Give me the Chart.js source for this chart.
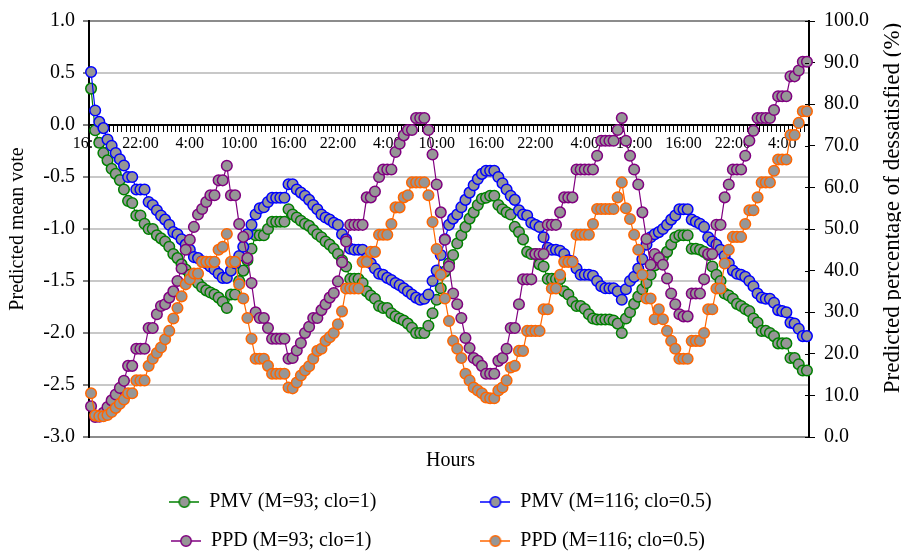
<!DOCTYPE html>
<html>
<head>
<meta charset="utf-8">
<script src="https://cdn.jsdelivr.net/npm/chart.js@4.4.0/dist/chart.umd.min.js"></script>
<style>
html,body{margin:0;padding:0;background:#fff;}
#wrap{width:901px;height:552px;}
</style>
</head>
<body>
<div id="wrap"><canvas id="c" width="901" height="552"></canvas></div>
<script>
// ---- data ----
const categories = [];
for (let i = 0; i < 175; i++) {
  const m = (16 * 60 + 30 * i) % (24 * 60);
  categories.push(Math.floor(m / 60) + ':' + (m % 60 === 0 ? '00' : '30'));
}
const tickLabels = ["16:00","22:00","4:00","10:00","16:00","22:00","4:00","10:00","16:00","22:00","4:00","10:00","16:00","22:00","4:00"];

const pmv93 = [0.35,-0.05,-0.17,-0.27,-0.34,-0.42,-0.47,-0.53,-0.62,-0.73,
 -0.75,-0.87,-0.87,-0.95,-1.00,-1.00,-1.06,-1.09,-1.12,-1.17,
 -1.24,-1.28,-1.34,-1.39,-1.44,-1.48,-1.52,-1.56,-1.59,-1.61,
 -1.63,-1.66,-1.70,-1.76,-1.63,-1.63,-1.50,-1.40,-1.30,-1.19,
 -1.06,-1.06,-1.06,-1.00,-0.93,-0.93,-0.93,-0.93,-0.81,-0.86,
 -0.89,-0.92,-0.95,-0.97,-1.01,-1.05,-1.08,-1.12,-1.15,-1.19,
 -1.24,-1.30,-1.36,-1.48,-1.48,-1.48,-1.52,-1.60,-1.64,-1.67,
 -1.74,-1.76,-1.76,-1.81,-1.84,-1.86,-1.88,-1.91,-1.95,-2.00,
 -2.00,-2.00,-1.93,-1.81,-1.68,-1.57,-1.41,-1.33,-1.25,-1.14,
 -1.06,-0.98,-0.90,-0.84,-0.77,-0.71,-0.70,-0.68,-0.68,-0.77,
 -0.81,-0.84,-0.86,-0.98,-1.03,-1.10,-1.22,-1.24,-1.24,-1.34,
 -1.36,-1.48,-1.48,-1.48,-1.48,-1.60,-1.63,-1.70,-1.74,-1.74,
 -1.77,-1.82,-1.86,-1.87,-1.87,-1.87,-1.87,-1.88,-1.91,-2.00,
 -1.86,-1.80,-1.72,-1.65,-1.58,-1.52,-1.44,-1.35,-1.30,-1.27,
 -1.22,-1.15,-1.08,-1.06,-1.06,-1.06,-1.19,-1.19,-1.20,-1.22,
 -1.25,-1.36,-1.44,-1.50,-1.62,-1.64,-1.67,-1.72,-1.74,-1.77,
 -1.79,-1.86,-1.90,-1.98,-1.98,-2.00,-2.03,-2.10,-2.10,-2.10,
 -2.24,-2.24,-2.30,-2.36,-2.36];

const pmv116 = [0.51,0.14,0.03,-0.03,-0.14,-0.20,-0.27,-0.33,-0.39,-0.50,
 -0.50,-0.62,-0.62,-0.62,-0.74,-0.77,-0.82,-0.87,-0.91,-0.96,
 -1.03,-1.05,-1.10,-1.15,-1.20,-1.27,-1.28,-1.31,-1.33,-1.36,
 -1.39,-1.43,-1.47,-1.47,-1.40,-1.33,-1.26,-1.17,-1.05,-0.96,
 -0.86,-0.80,-0.79,-0.74,-0.70,-0.70,-0.70,-0.70,-0.57,-0.57,
 -0.62,-0.65,-0.68,-0.72,-0.77,-0.81,-0.86,-0.89,-0.91,-0.94,
 -0.96,-1.05,-1.10,-1.19,-1.20,-1.20,-1.20,-1.28,-1.33,-1.38,
 -1.43,-1.44,-1.47,-1.49,-1.52,-1.54,-1.57,-1.60,-1.63,-1.66,
 -1.68,-1.67,-1.63,-1.50,-1.40,-1.25,-1.10,-0.96,-0.90,-0.86,
 -0.79,-0.72,-0.65,-0.58,-0.52,-0.47,-0.44,-0.44,-0.44,-0.50,
 -0.56,-0.62,-0.68,-0.72,-0.82,-0.86,-0.87,-0.94,-0.96,-0.98,
 -1.08,-1.18,-1.20,-1.20,-1.21,-1.24,-1.30,-1.31,-1.38,-1.44,
 -1.44,-1.44,-1.45,-1.50,-1.55,-1.57,-1.57,-1.57,-1.60,-1.68,
 -1.58,-1.50,-1.46,-1.38,-1.29,-1.15,-1.08,-1.05,-1.03,-1.00,
 -0.96,-0.91,-0.87,-0.81,-0.81,-0.81,-0.91,-0.93,-0.95,-0.98,
 -1.08,-1.12,-1.15,-1.20,-1.26,-1.33,-1.40,-1.43,-1.44,-1.46,
 -1.50,-1.55,-1.62,-1.66,-1.67,-1.67,-1.71,-1.78,-1.79,-1.80,
 -1.90,-1.91,-1.96,-2.03,-2.03];

const ppd93 = [7.4,4.8,4.9,5.8,7.2,8.8,10.2,11.8,13.5,17.1,
 17.1,21.2,21.2,21.2,26.2,26.2,29.5,31.5,31.9,33.5,
 35.0,37.5,40.5,45.0,47.4,50.5,53.5,54.8,56.5,58.1,
 58.1,61.7,61.7,65.2,58.1,58.1,51.2,48.1,43.0,37.0,
 30.0,28.6,28.6,26.2,23.6,23.6,23.6,23.6,18.8,19.0,
 20.8,22.6,25.0,26.5,28.6,28.6,30.5,31.9,33.5,34.6,
 37.4,42.0,47.0,51.0,51.0,51.0,51.0,57.6,57.6,59.0,
 62.5,64.3,64.3,64.3,68.5,70.5,72.5,73.8,73.8,76.7,
 76.7,76.7,73.8,67.9,60.7,54.0,47.4,41.0,34.5,31.9,
 28.6,23.8,21.4,19.0,18.3,17.1,15.2,15.2,15.2,18.3,
 19.0,21.2,26.2,26.2,31.9,37.9,37.9,37.9,44.0,44.0,
 44.0,51.0,51.0,51.0,54.0,57.6,57.6,57.6,64.3,64.3,
 64.3,64.3,64.3,67.6,71.2,71.2,71.2,71.2,73.8,76.7,
 71.2,67.6,64.3,60.7,54.0,47.6,41.4,44.0,43.0,41.4,
 38.1,34.5,31.9,29.5,29.0,29.0,34.5,34.5,34.5,37.9,
 44.0,44.0,51.0,51.0,57.6,60.7,64.3,64.3,64.3,67.6,
 71.2,73.6,76.7,76.7,76.7,76.7,78.6,81.9,81.9,81.9,
 86.7,86.7,88.1,90.2,90.2];

const ppd116 = [10.5,5.2,5.0,5.0,5.3,6.0,7.0,8.0,9.0,10.5,
 10.5,13.6,13.6,13.6,17.1,18.8,20.2,21.5,23.5,25.5,
 28.5,31.0,33.8,36.7,37.9,39.3,39.3,42.1,42.1,42.1,
 42.1,45.0,45.7,48.8,42.1,42.1,36.7,33.3,28.6,23.6,
 18.8,18.8,18.8,17.1,15.2,15.2,15.2,15.2,11.9,11.7,
 13.1,14.8,16.0,17.0,18.8,20.7,21.2,23.1,24.0,25.0,
 27.1,30.2,35.7,35.7,35.7,35.7,42.1,42.1,44.5,44.5,
 48.6,48.6,48.6,51.2,55.2,55.2,57.6,58.1,61.2,61.2,
 61.2,61.2,58.1,51.7,45.2,39.0,33.3,27.9,23.1,21.2,
 19.0,15.2,13.6,11.9,11.2,10.5,9.5,9.3,9.3,11.2,
 11.9,13.6,16.7,17.1,20.7,20.7,25.5,25.5,25.5,25.5,
 30.7,30.7,35.7,35.7,39.0,42.1,42.1,42.1,48.6,48.6,
 48.6,48.6,51.2,54.8,54.8,54.8,54.8,54.8,57.6,61.2,
 55.0,52.4,48.6,45.0,39.0,33.3,33.3,28.3,30.7,28.3,
 25.5,23.1,21.2,18.8,18.8,18.8,23.1,23.1,23.1,25.0,
 30.7,30.7,35.7,35.7,41.7,45.0,48.1,48.1,48.1,51.2,
 54.5,54.5,57.6,61.2,61.2,61.2,64.0,66.7,66.7,66.7,
 72.6,72.6,75.5,78.3,78.3];

const seriesNames = ["PMV (M=93; clo=1)", "PMV (M=116; clo=0.5)", "PPD (M=93; clo=1)", "PPD (M=116; clo=0.5)"];
const seriesColors = ["#008000", "#0000FF", "#800080", "#FF6600"];
const leftTitle = "Predicted mean vote";
const rightTitle = "Predicted percentage of dessatisfied (%)";
const xTitle = "Hours";

// ---- styling ----
const FONT = '"Liberation Serif", "Times New Roman", serif';
const MARKER_FILL = '#969696';
Chart.defaults.font.family = FONT;
Chart.defaults.color = '#000';

const ICON_W = 30;
function legendIcon(color) {
  const c = document.createElement('canvas');
  c.width = ICON_W; c.height = 14;
  const g = c.getContext('2d');
  g.strokeStyle = color; g.lineWidth = 1.5;
  g.beginPath(); g.moveTo(0, 7); g.lineTo(ICON_W, 7); g.stroke();
  g.beginPath(); g.arc(ICON_W / 2, 7, 5.2, 0, Math.PI * 2);
  g.fillStyle = MARKER_FILL; g.fill(); g.stroke();
  return c;
}
const icons = seriesColors.map(legendIcon);

const LEG_FONT = 20;
const extras = {
  id: 'extras',
  afterDraw(chart) {
    const {ctx, chartArea} = chart;
    const s = chart.scales.y1;
    ctx.save();
    ctx.strokeStyle = '#000';
    ctx.lineWidth = 1;
    s.ticks.forEach((t, i) => {
      const y = Math.round(s.getPixelForTick(i)) + 0.5;
      ctx.beginPath(); ctx.moveTo(chartArea.right - 4, y); ctx.lineTo(chartArea.right, y); ctx.stroke();
    });
    ctx.translate(893, 208);
    ctx.rotate(-Math.PI / 2);
    ctx.font = '23px ' + FONT;
    ctx.fillStyle = '#000';
    ctx.textAlign = 'center';
    ctx.textBaseline = 'middle';
    ctx.fillText(rightTitle, 0, 0);
    ctx.restore();
  }
};

const datasets = [pmv93, pmv116, ppd93, ppd116].map((d, k) => ({
  label: seriesNames[k],
  data: d,
  yAxisID: k < 2 ? 'y' : 'y1',
  borderColor: seriesColors[k],
  pointBorderColor: seriesColors[k],
  pointBackgroundColor: MARKER_FILL,
  backgroundColor: MARKER_FILL,
  borderWidth: 1.2,
  pointRadius: 5.3,
  pointHoverRadius: 5.3,
  pointBorderWidth: 1.5,
  tension: 0,
  clip: false,
  order: 3 - k
}));

new Chart(document.getElementById('c'), {
  type: 'line',
  data: { labels: categories, datasets },
  options: {
    responsive: false,
    animation: false,
    devicePixelRatio: 1,
    events: [],
    layout: { padding: { top: 17, left: 20, right: 20, bottom: 0 } },
    scales: {
      x: {
        type: 'category',
        position: { y: 0 },
        offset: true,
        grid: { drawOnChartArea: false, offset: true, tickLength: 6, color: '#000', lineWidth: 1 },
        border: { display: true, color: '#000', width: 2 },
        ticks: {
          autoSkip: false, maxRotation: 0, minRotation: 0, padding: 3,
          color: '#000', font: { size: 16 },
          callback: (v, i) => (i % 12 === 0 ? tickLabels[i / 12] : '')
        }
      },
      y: {
        position: 'left',
        min: -3, max: 1,
        ticks: { stepSize: 0.5, padding: 8, color: '#000', font: { size: 20 }, callback: v => v.toFixed(1) },
        grid: {
          color: c => (c.tick && (c.tick.value === 1 || c.tick.value === -3)) ? '#8c8c8c' : '#c8c8c8',
          lineWidth: 2, tickColor: '#000', tickLength: 6, tickWidth: 1
        },
        border: { color: '#000', width: 2 },
        title: { display: true, text: leftTitle, color: '#000', font: { size: 20 }, padding: { top: -14, bottom: 0 } },
        afterFit: s => { s.width = 69; }
      },
      y1: {
        position: 'right',
        min: 0, max: 100,
        ticks: { stepSize: 10, padding: 9, color: '#000', font: { size: 20 }, callback: v => v.toFixed(1) },
        grid: { drawOnChartArea: false, color: '#000', tickLength: 6, lineWidth: 1 },
        border: { color: '#000', width: 2 },
        afterFit: s => { s.width = 72; }
      }
    },
    plugins: {
      tooltip: { enabled: false },
      title: {
        display: true, text: xTitle, position: 'bottom', weight: 500,
        color: '#000', font: { size: 20, weight: 'normal' }, padding: { top: 12, bottom: 0 }
      },
      legend: {
        position: 'bottom',
        maxHeight: 79,
        labels: {
          usePointStyle: true,
          pointStyleWidth: ICON_W,
          padding: 19,
          color: '#000',
          font: { size: LEG_FONT },
          sort: (a, b) => a.datasetIndex - b.datasetIndex,
          generateLabels(chart) {
            const items = Chart.defaults.plugins.legend.labels.generateLabels(chart);
            const ctx = chart.ctx;
            ctx.save();
            ctx.font = LEG_FONT + 'px ' + FONT;
            items.forEach(it => {
              it.pointStyle = icons[it.datasetIndex];
              let t = it.text;
              const target = it.datasetIndex % 2 === 0 ? 249 : 207;
              while (ctx.measureText(t).width < target) t += ' ';
              it.text = t;
            });
            ctx.restore();
            return items;
          }
        }
      }
    }
  },
  plugins: [extras]
});
</script>
</body>
</html>
